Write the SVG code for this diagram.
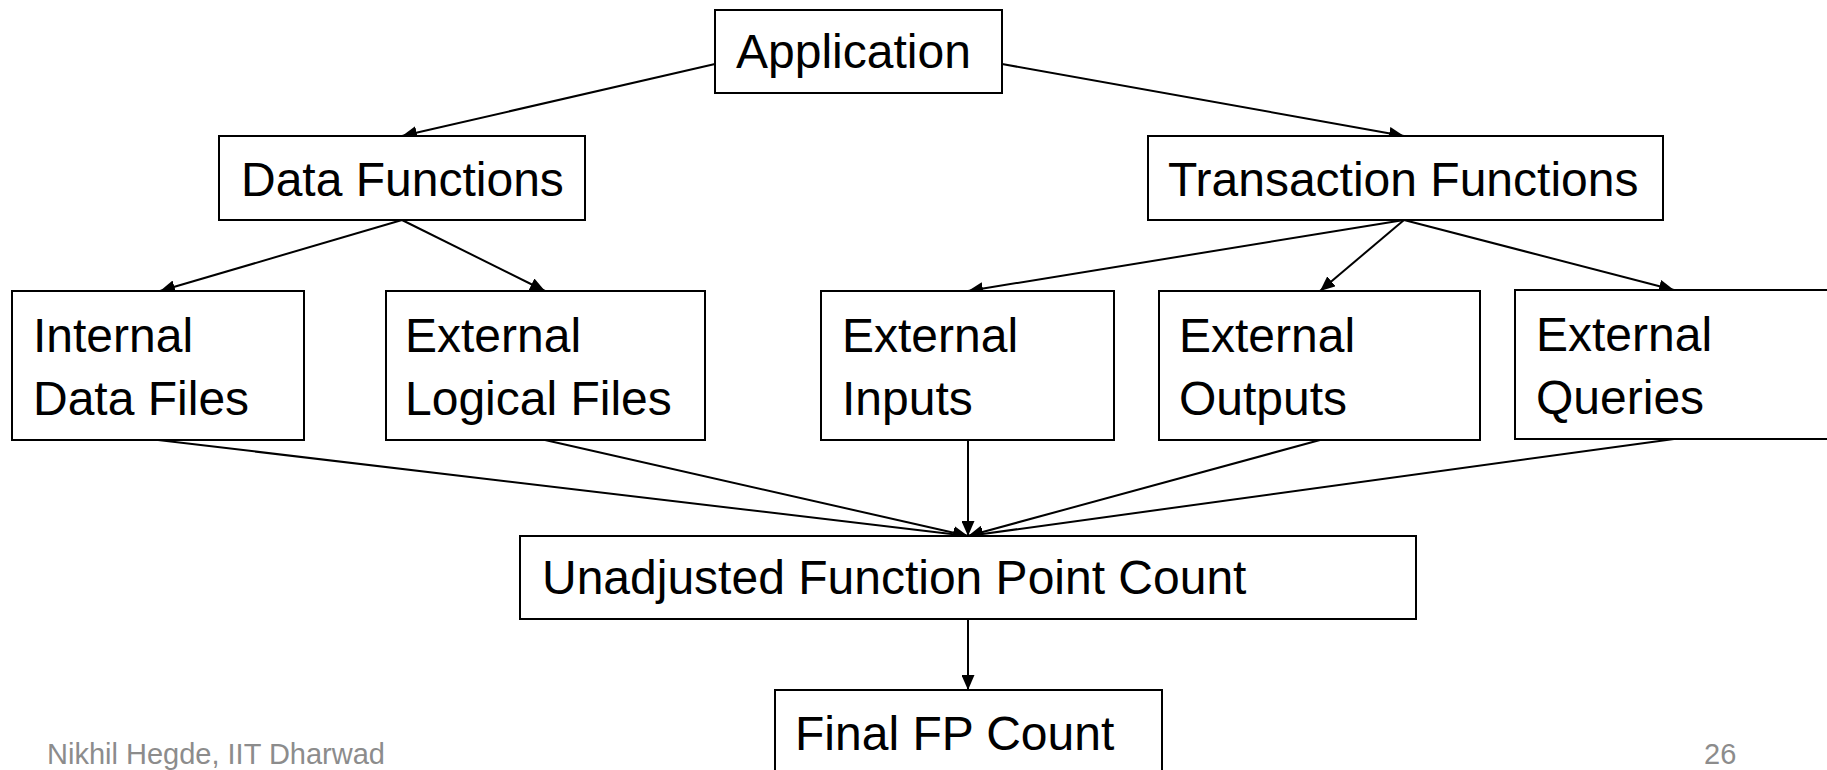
<svg xmlns="http://www.w3.org/2000/svg" width="1827" height="770" viewBox="0 0 1827 770">
<style>
.box{fill:#fff;stroke:#000;stroke-width:2}
.t{font-family:"Liberation Sans",Arial,sans-serif;font-size:48px;fill:#000}
.c{stroke:#000;stroke-width:2;fill:none;marker-end:url(#ah)}
.f{font-family:"Liberation Sans",Arial,sans-serif;font-size:29px;fill:#8c8c8c}
</style>
<defs>
<marker id="ah" markerUnits="userSpaceOnUse" markerWidth="15" markerHeight="13" refX="15" refY="6.5" orient="auto">
<path d="M0,0 L15,6.5 L0,13 z" fill="#000"/>
</marker>
</defs>
<rect width="1827" height="770" fill="#fff"/>
<g id="connectors">
<line class="c" x1="715" y1="64" x2="402" y2="136"/>
<line class="c" x1="1002" y1="64" x2="1404" y2="136"/>
<line class="c" x1="402" y1="220" x2="160" y2="291"/>
<line class="c" x1="402" y1="220" x2="545" y2="291"/>
<line class="c" x1="1404" y1="220" x2="968" y2="291"/>
<line class="c" x1="1404" y1="220" x2="1320" y2="291"/>
<line class="c" x1="1404" y1="220" x2="1674" y2="290"/>
<line class="c" x1="158" y1="440" x2="968" y2="536"/>
<line class="c" x1="545" y1="440" x2="968" y2="536"/>
<line class="c" x1="968" y1="440" x2="968" y2="536"/>
<line class="c" x1="1320" y1="440" x2="968" y2="536"/>
<line class="c" x1="1674" y1="439" x2="968" y2="536"/>
<line class="c" x1="968" y1="619" x2="968" y2="690"/>
</g>
<g id="application">
<rect class="box" x="715" y="10" width="287" height="83"/>
<text class="t" x="736" y="68">Application</text>
</g>
<g id="data-functions">
<rect class="box" x="219" y="136" width="366" height="84"/>
<text class="t" x="241" y="196">Data Functions</text>
</g>
<g id="transaction-functions">
<rect class="box" x="1148" y="136" width="515" height="84"/>
<text class="t" x="1168" y="196">Transaction Functions</text>
</g>
<g id="internal-data-files">
<rect class="box" x="12" y="291" width="292" height="149"/>
<text class="t" x="33" y="352">Internal</text>
<text class="t" x="33" y="415">Data Files</text>
</g>
<g id="external-logical-files">
<rect class="box" x="386" y="291" width="319" height="149"/>
<text class="t" x="405" y="352">External</text>
<text class="t" x="405" y="415">Logical Files</text>
</g>
<g id="external-inputs">
<rect class="box" x="821" y="291" width="293" height="149"/>
<text class="t" x="842" y="352">External</text>
<text class="t" x="842" y="415">Inputs</text>
</g>
<g id="external-outputs">
<rect class="box" x="1159" y="291" width="321" height="149"/>
<text class="t" x="1179" y="352">External</text>
<text class="t" x="1179" y="415">Outputs</text>
</g>
<g id="external-queries">
<rect class="box" x="1515" y="290" width="330" height="149"/>
<text class="t" x="1536" y="351">External</text>
<text class="t" x="1536" y="414">Queries</text>
</g>
<g id="unadjusted-fp-count">
<rect class="box" x="520" y="536" width="896" height="83"/>
<text class="t" x="542" y="594">Unadjusted Function Point Count</text>
</g>
<g id="final-fp-count">
<rect class="box" x="775" y="690" width="387" height="100"/>
<text class="t" x="795" y="750">Final FP Count</text>
</g>
<g id="footer">
<text class="f" x="47" y="764">Nikhil Hegde, IIT Dharwad</text>
<text class="f" x="1704" y="764">26</text>
</g>
</svg>
